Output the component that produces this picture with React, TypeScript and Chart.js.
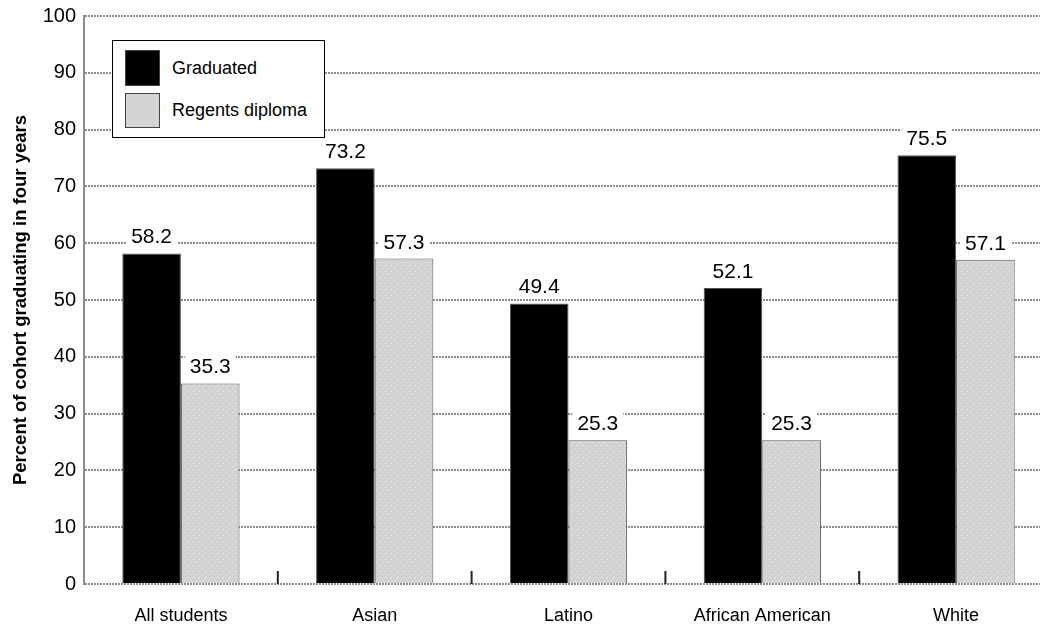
import React, { useEffect, useRef } from "react";
import { Chart, registerables } from "chart.js";

Chart.register(...registerables);

const categories = ["All students", "Asian", "Latino", "African American", "White"];
const graduated = [58.2, 73.2, 49.4, 52.1, 75.5];
const regents = [35.3, 57.3, 25.3, 25.3, 57.1];
const seriesNames = ["Graduated", "Regents diploma"];
const yMin = 0;
const yMax = 100;
const yStep = 10;
const yTitle = "Percent of cohort graduating in four years";

function makePattern(): CanvasPattern | string {
  const c = document.createElement("canvas");
  c.width = 6;
  c.height = 6;
  const g = c.getContext("2d");
  if (!g) return "#d3d3d3";
  g.fillStyle = "#d2d2d4";
  g.fillRect(0, 0, 6, 6);
  g.fillStyle = "#f2f4f6";
  g.fillRect(1, 1, 1, 1);
  g.fillStyle = "#d8f0f0";
  g.fillRect(4, 4, 1, 1);
  const p = g.createPattern(c, "repeat");
  return p || "#d3d3d3";
}

const valueLabels = {
  id: "valueLabels",
  afterDatasetsDraw(chart: any) {
    const ctx = chart.ctx;
    ctx.save();
    ctx.font = "21px 'Liberation Sans', Arial, sans-serif";
    ctx.textAlign = "center";
    ctx.textBaseline = "alphabetic";
    chart.data.datasets.forEach((ds: any, di: number) => {
      const meta = chart.getDatasetMeta(di);
      meta.data.forEach((bar: any, i: number) => {
        const v = ds.data[i];
        const txt = v.toFixed(1);
        const w = ctx.measureText(txt).width;
        const base = bar.y - 10;
        ctx.fillStyle = "#ffffff";
        ctx.fillRect(bar.x - w / 2 - 5, base - 19, w + 10, 22);
        ctx.fillStyle = "#000000";
        ctx.fillText(txt, bar.x, base);
      });
    });
    ctx.restore();
  },
};

const groupTicks = {
  id: "groupTicks",
  afterDatasetsDraw(chart: any) {
    const ctx = chart.ctx;
    const xs = chart.scales.x;
    const ys = chart.scales.y;
    const y0 = ys.getPixelForValue(0);
    ctx.save();
    ctx.strokeStyle = "#222222";
    ctx.lineWidth = 2;
    for (let i = 0; i < categories.length - 1; i++) {
      const px = (xs.getPixelForValue(i) + xs.getPixelForValue(i + 1)) / 2;
      ctx.beginPath();
      ctx.moveTo(px, y0 - 13);
      ctx.lineTo(px, y0);
      ctx.stroke();
    }
    ctx.restore();
  },
};

const CANVAS_W = 1053;

export default function App() {
  const ref = useRef<HTMLCanvasElement | null>(null);

  useEffect(() => {
    if (!ref.current) return;
    const pattern = makePattern();
    const chart = new Chart(ref.current, {
      type: "bar",
      data: {
        labels: categories,
        datasets: [
          {
            label: seriesNames[0],
            data: graduated,
            backgroundColor: "#000000",
            borderColor: "#555555",
            borderWidth: 1,
            categoryPercentage: 0.605,
            barPercentage: 1,
          },
          {
            label: seriesNames[1],
            data: regents,
            backgroundColor: pattern as any,
            borderColor: "#555555",
            borderWidth: 1,
            categoryPercentage: 0.605,
            barPercentage: 1,
          },
        ],
      },
      options: {
        animation: false,
        responsive: false,
        maintainAspectRatio: false,
        layout: { padding: { left: 0, right: 0, top: 16, bottom: 0 } },
        plugins: {
          legend: { display: false },
          tooltip: { enabled: false },
        },
        scales: {
          x: {
            type: "category",
            grid: { display: false },
            border: { display: false },
            ticks: {
              color: "#000000",
              padding: 13,
              maxRotation: 0,
              autoSkip: false,
              font: { family: "'Liberation Sans', Arial, sans-serif", size: 18 },
            },
            afterFit(scale: any) {
              scale.height = 42;
              scale.paddingLeft = 0;
              scale.paddingRight = 0;
            },
          },
          y: {
            min: yMin,
            max: yMax,
            grid: {
              color: "#8c8c8c",
              lineWidth: 2,
              drawTicks: false,
            },
            border: { display: true, color: "#8c8c8c", width: 2, dash: [2, 1] },
            ticks: {
              stepSize: yStep,
              color: "#000000",
              padding: 8,
              font: { family: "'Liberation Sans', Arial, sans-serif", size: 20 },
            },
            title: {
              display: true,
              text: yTitle,
              color: "#000000",
              padding: { top: 10, bottom: 0 },
              font: { family: "'Liberation Sans', Arial, sans-serif", size: 18.5, weight: "bold" },
            },
            afterFit(scale: any) {
              scale.width = 84;
              scale.paddingTop = 0;
              scale.paddingBottom = 0;
            },
          },
        },
      },
      plugins: [groupTicks, valueLabels],
    });
    return () => chart.destroy();
  }, []);

  const legendText: React.CSSProperties = {
    position: "absolute",
    left: 172,
    fontFamily: "'Liberation Sans', Arial, sans-serif",
    fontSize: 18,
    lineHeight: "20px",
    color: "#000",
    whiteSpace: "nowrap",
  };

  return (
    <div style={{ position: "fixed", left: 0, top: 0, width: 1040, height: 626, background: "#fff", overflow: "hidden" }}>
      <canvas ref={ref} width={CANVAS_W} height={626} style={{ display: "block", width: CANVAS_W, height: 626 }} />
      <div
        style={{
          position: "absolute",
          left: 112,
          top: 40,
          width: 213,
          height: 98,
          border: "1.5px solid #000",
          background: "#fff",
          boxSizing: "border-box",
        }}
      />
      <div style={{ position: "absolute", left: 125, top: 50, width: 35, height: 36, background: "#000", border: "1px solid #444", boxSizing: "border-box" }} />
      <div style={{ position: "absolute", left: 125, top: 93, width: 35, height: 35, background: "#d4d4d4", border: "1px solid #444", boxSizing: "border-box" }} />
      <div style={{ ...legendText, top: 58 }}>{seriesNames[0]}</div>
      <div style={{ ...legendText, top: 100 }}>{seriesNames[1]}</div>
    </div>
  );
}
